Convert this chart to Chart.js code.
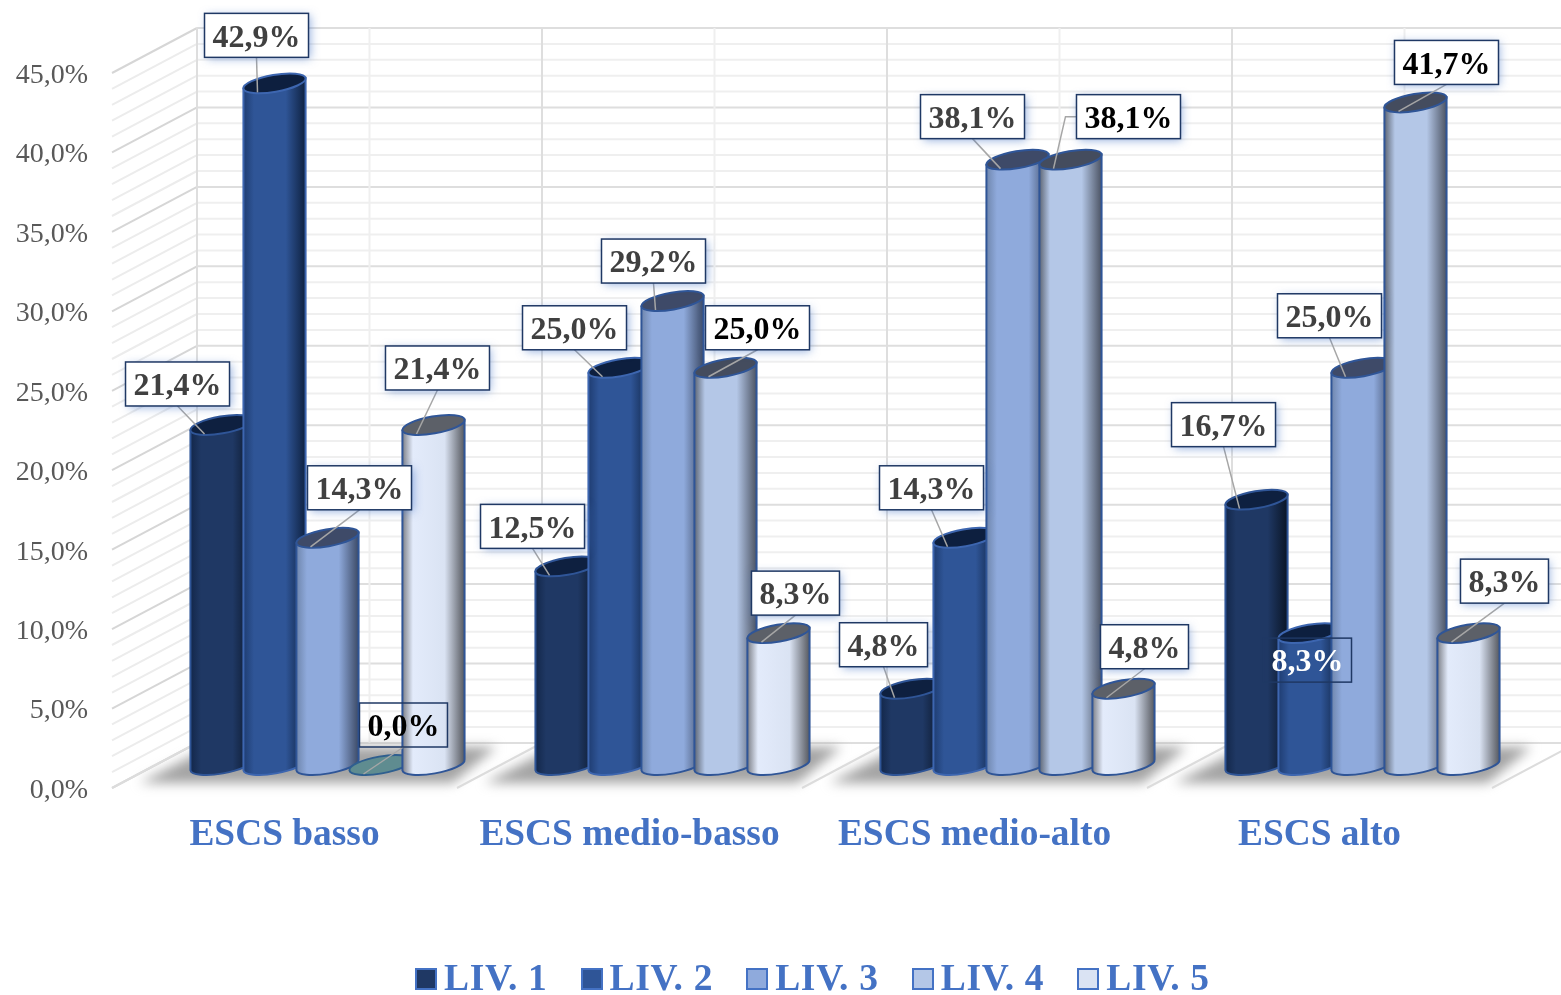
<!DOCTYPE html>
<html lang="it">
<head>
<meta charset="utf-8">
<title>ESCS</title>
<script src="https://cdn.jsdelivr.net/npm/chart.js@4/dist/chart.umd.min.js"></script>
<style>
  html, body { margin: 0; padding: 0; background: #fff; overflow: hidden; }
  #wrap { position: relative; width: 1561px; height: 995px; }
  #legend { position: absolute; left: 415px; top: 956px; display: flex; gap: 33px;
    font: bold 37.5px "Liberation Serif", serif; letter-spacing: .7px; color: #4472c4; line-height: 44px; white-space: nowrap; }
  #legend .item { display: flex; align-items: center; gap: 7px; }
  #legend .box { width: 18px; height: 18px; border: 2px solid #4472c4; margin-top: 2px; }
</style>
</head>
<body>
<div id="wrap">
  <canvas id="chart" width="1561" height="995"></canvas>
  <div id="legend"></div>
</div>
<script>
// ─── Dati ────────────────────────────────────────────────────────────────────
const categories = ['ESCS basso', 'ESCS medio-basso', 'ESCS medio-alto', 'ESCS alto'];
const seriesNames = ['LIV. 1', 'LIV. 2', 'LIV. 3', 'LIV. 4', 'LIV. 5'];
const liv1 = [21.4, 12.5, 4.8, 16.7];
const liv2 = [42.9, 25.0, 14.3, 8.3];
const liv3 = [14.3, 29.2, 38.1, 25.0];
const liv4 = [0.0, 25.0, 38.1, 41.7];
const liv5 = [21.4, 8.3, 4.8, 8.3];
const seriesValues = [liv1, liv2, liv3, liv4, liv5];

// ─── Stile ───────────────────────────────────────────────────────────────────
const seriesColors = ['#1f3864', '#2f5597', '#8faadc', '#b4c7e7', '#dae3f3'];
// gradiente orizzontale del cilindro: bordo sx, centro, centro, bordo dx
const shades = {
  '#1f3864': { stops: ['#13274a', '#1f3864', '#1f3864', '#0a1526'], top: '#0e2040', line: '#2f5597' },
  '#2f5597': { stops: ['#1f3d72', '#2f5597', '#2f5597', '#0e2140'], top: '#0d1f3f', line: '#3d66b0' },
  '#8faadc': { stops: ['#6f86ad', '#8faadc', '#8faadc', '#3c4a66'], top: '#3e4a68', line: '#2f5597' },
  '#b4c7e7': { stops: ['#5e6674', '#b4c7e7', '#b4c7e7', '#4c5464'], top: '#444c5e', line: '#2f5597' },
  '#dae3f3': { stops: ['#7d8088', '#e3ebfb', '#dae3f3', '#55585f'], top: '#5c6068', line: '#2f5597' },
};
const ZERO_FILL = '#5f8c90';
// spostamento in profondità: barre rispetto all'asse, pareti rispetto all'asse
const BAR_DX = 43, BAR_DY = -23;
const WALL_DX = 85, WALL_DY = -45;

// posizione etichette rispetto alla cima del cilindro [dx, dy]
const labelOffsets = [
  [[-44, -41], [-34, -40], [-28, -44], [-33, -75]],
  [[-18, -48], [-45, -40], [-33, -50], [-2, 27]],
  [[32, -50], [-19, -40], [-45, -43], [-33, -52]],
  [[23, -40], [32, -40], [58, -43], [31, -40]],
  [[4, -57], [17, -40], [21, -42], [36, -52]],
];
const labelColors = ['#404040', '#404040', '#404040', '#000000', '#404040'];
const fmtPct = v => v.toFixed(1).replace('.', ',') + '%';

// ─── Pareti, griglia e ombre a terra ─────────────────────────────────────────
const wallsPlugin = {
  id: 'walls',
  beforeDatasetsDraw(chart) {
    const { ctx, chartArea: a, scales: { y } } = chart;
    ctx.save();
    ctx.lineWidth = 2;
    for (let v = 0; v <= 45; v++) {
      const py = y.getPixelForValue(v);
      const major = v % 5 === 0;
      ctx.strokeStyle = major ? '#d6d6d6' : '#ececec';
      ctx.beginPath();
      ctx.moveTo(a.left, py);
      ctx.lineTo(a.left + WALL_DX, py + WALL_DY);
      ctx.stroke();
      ctx.strokeStyle = major ? '#dedede' : '#efefef';
      ctx.beginPath();
      ctx.moveTo(a.left + WALL_DX, py + WALL_DY);
      ctx.lineTo(chart.width, py + WALL_DY);
      ctx.stroke();
    }
    const step = (a.right - a.left) / categories.length;
    for (let i = 0; i <= categories.length * 2; i++) {
      const px = a.left + WALL_DX + i * step / 2;
      ctx.strokeStyle = i % 2 === 0 ? '#dedede' : '#efefef';
      ctx.beginPath();
      ctx.moveTo(px, y.getPixelForValue(45) + WALL_DY);
      ctx.lineTo(px, a.bottom + WALL_DY);
      ctx.stroke();
    }
    // ombra sul pavimento per ogni gruppo
    ctx.filter = 'blur(6px)';
    ctx.fillStyle = '#a3a3a3';
    for (let i = 0; i < categories.length; i++) {
      const c = a.left + (i + 0.5) * step;
      ctx.beginPath();
      ctx.moveTo(c - 145, a.bottom - 5);
      ctx.lineTo(c - 75, a.bottom + WALL_DY + 4);
      ctx.lineTo(c + 212, a.bottom + WALL_DY + 4);
      ctx.lineTo(c + 168, a.bottom - 5);
      ctx.closePath();
      ctx.fill();
    }
    ctx.filter = 'none';
    // linee del pavimento
    ctx.strokeStyle = '#dcdcdc';
    for (let i = 0; i <= categories.length; i++) {
      const px = a.left + i * step;
      ctx.beginPath();
      ctx.moveTo(px, a.bottom);
      ctx.lineTo(px + WALL_DX, a.bottom + WALL_DY);
      ctx.stroke();
    }
    ctx.restore();
  },
};

// ─── Cilindri ────────────────────────────────────────────────────────────────
function drawCylinder(ctx, el, value) {
  const cx = el.x + BAR_DX, top = el.y + BAR_DY, base = el.base + BAR_DY;
  const a = el.width / 2, b = 8.5, rot = -0.17;
  const s = shades[el.options.backgroundColor];
  const dx = a * Math.cos(rot), dy = a * Math.sin(rot);
  ctx.save();
  ctx.lineWidth = 2;
  ctx.strokeStyle = s.line;
  if (value > 0) {
    const g = ctx.createLinearGradient(cx - dx, 0, cx + dx, 0);
    g.addColorStop(0, s.stops[0]);
    g.addColorStop(0.17, s.stops[1]);
    g.addColorStop(0.68, s.stops[2]);
    g.addColorStop(1, s.stops[3]);
    ctx.fillStyle = g;
    ctx.beginPath();
    ctx.ellipse(cx, base, a, b, rot, 0, Math.PI, false);
    ctx.lineTo(cx - dx, top - dy);
    ctx.lineTo(cx + dx, top + dy);
    ctx.closePath();
    ctx.fill();
    ctx.stroke();
  }
  ctx.fillStyle = value > 0 ? s.top : ZERO_FILL;
  ctx.beginPath();
  ctx.ellipse(cx, top, a, b, rot, 0, Math.PI * 2);
  ctx.fill();
  ctx.strokeStyle = value > 0 ? s.line : '#2f5f8f';
  ctx.stroke();
  ctx.restore();
}

// ─── Etichette con riquadro e linea guida ────────────────────────────────────
function drawLabel(ctx, el, value, ds, i) {
  const cx = el.x + BAR_DX, top = el.y + BAR_DY;
  const [ox, oy] = labelOffsets[ds][i];
  const bx = cx + ox, by = top + oy;
  const text = fmtPct(value);
  ctx.save();
  ctx.font = 'bold 32px "Liberation Serif", serif';
  ctx.textAlign = 'center';
  ctx.textBaseline = 'middle';
  const w = ctx.measureText(text).width + 16, h = 44;
  const left = bx - w / 2, right = bx + w / 2, boxTop = by - h / 2, bottom = by + h / 2;
  const endX = cx - 17, endY = top + 9;
  const onBar = boxTop > top; // la scritta sta sul cilindro: niente riempimento
  const clear = onBar || value === 0;

  if (!onBar) {
    ctx.strokeStyle = '#a6a6a6';
    ctx.lineWidth = 1.5;
    ctx.beginPath();
    if (endX < left - 10) {
      ctx.moveTo(left, by);
      ctx.lineTo(left - 11, by);
    } else {
      ctx.moveTo(bx, bottom);
    }
    ctx.lineTo(endX, endY);
    ctx.stroke();
  }
  if (!clear) {
    ctx.save();
    ctx.shadowColor = 'rgba(68,114,196,.55)';
    ctx.shadowBlur = 9;
    ctx.shadowOffsetX = 2;
    ctx.shadowOffsetY = 2;
    ctx.fillStyle = '#fff';
    ctx.fillRect(left, boxTop, w, h);
    ctx.restore();
  }
  ctx.strokeStyle = '#1f3864';
  ctx.lineWidth = 1.5;
  ctx.strokeRect(left, boxTop, w, h);
  ctx.fillStyle = onBar ? '#fff' : labelColors[ds];
  ctx.fillText(text, bx, by + 3);
  ctx.restore();
}

const cylinderPlugin = {
  id: 'cylinders',
  // le barre native non si disegnano, le sostituiscono i cilindri
  beforeDatasetDraw() { return false; },
  afterDatasetsDraw(chart) {
    const { ctx } = chart;
    seriesValues.forEach((vals, ds) => {
      chart.getDatasetMeta(ds).data.forEach((el, i) => drawCylinder(ctx, el, vals[i]));
    });
    seriesValues.forEach((vals, ds) => {
      chart.getDatasetMeta(ds).data.forEach((el, i) => drawLabel(ctx, el, vals[i], ds, i));
    });
  },
};

// ─── Grafico ─────────────────────────────────────────────────────────────────
new Chart(document.getElementById('chart'), {
  type: 'bar',
  data: {
    labels: categories,
    datasets: seriesNames.map((name, i) => ({
      label: name,
      data: seriesValues[i],
      backgroundColor: seriesColors[i],
      categoryPercentage: 0.768,
      barPercentage: 1.19,
    })),
  },
  options: {
    responsive: false,
    animation: false,
    layout: { padding: { top: 73, right: 69, left: 0, bottom: 0 } },
    plugins: { legend: { display: false }, tooltip: { enabled: false } },
    scales: {
      x: {
        grid: { display: false, drawTicks: false },
        border: { display: false },
        ticks: { color: '#4472c4', font: { family: '"Liberation Serif", serif', size: 37.4, weight: 'bold' }, padding: 25, maxRotation: 0, autoSkip: false },
        afterFit: s => { s.height = 207; },
      },
      y: {
        min: 0,
        max: 45,
        grid: { display: false, drawTicks: false },
        border: { display: false },
        ticks: { stepSize: 5, color: '#595959', font: { family: '"Liberation Serif", serif', size: 28 }, padding: 24, labelOffset: 2.5, callback: v => fmtPct(v) },
        afterFit: s => { s.width = 112; },
      },
    },
  },
  plugins: [wallsPlugin, cylinderPlugin],
});

// ─── Legenda ─────────────────────────────────────────────────────────────────
document.getElementById('legend').innerHTML = seriesNames.map((name, i) =>
  `<div class="item"><span class="box" style="background:${seriesColors[i]}"></span>${name}</div>`
).join('');
</script>
</body>
</html>
